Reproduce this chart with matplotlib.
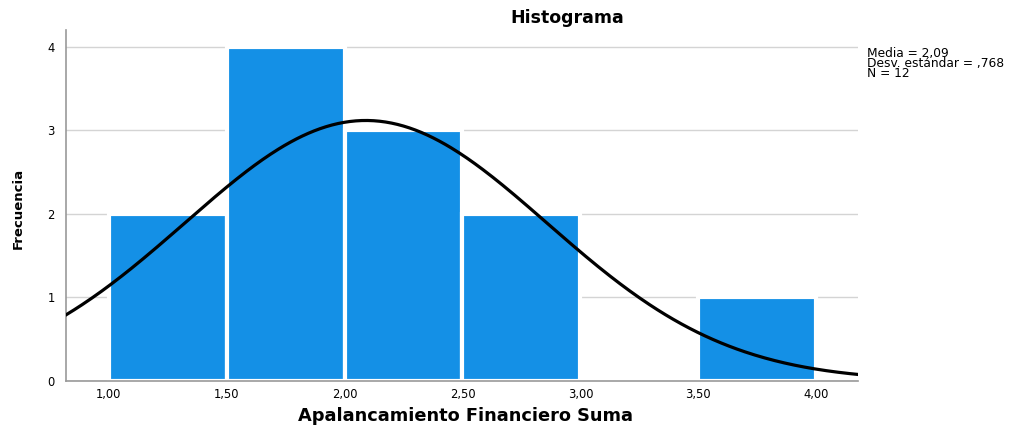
import numpy as np
import matplotlib.pyplot as plt

plt.rcParams['font.family'] = ['DejaVu Sans']

# histogram bins (Apalancamiento Financiero Suma) and counts
bin_edges = [1.0, 1.5, 2.0, 2.5, 3.0, 3.5, 4.0]
counts = [2, 4, 3, 2, 0, 1]
media = 2.09
desv = 0.768
n_obs = 12
xticks = [1.0, 1.5, 2.0, 2.5, 3.0, 3.5, 4.0]
xtick_labels = ['1,00', '1,50', '2,00', '2,50', '3,00', '3,50', '4,00']
yticks = [0, 1, 2, 3, 4]

fig = plt.figure(figsize=(10.16, 4.28), dpi=100)
ax = fig.add_axes([0.065, 0.11, 0.7795, 0.82])

width = bin_edges[1] - bin_edges[0]
ax.bar(bin_edges[:-1], counts, width=width, align='edge', color='#1490e6',
       edgecolor='white', linewidth=3, zorder=2)

# normal curve scaled to counts
xs = np.linspace(0.818, 4.178, 400)
ys = n_obs * width / (desv * np.sqrt(2 * np.pi)) * np.exp(-0.5 * ((xs - media) / desv) ** 2)
ax.plot(xs, ys, color='black', linewidth=2.3, zorder=3)

ax.set_xlim(0.818, 4.178)
ax.set_ylim(0, 4.2)
ax.set_xticks(xticks)
ax.set_xticklabels(xtick_labels)
ax.set_yticks(yticks)
ax.tick_params(axis='x', length=0, labelsize=8.3, pad=5)
ax.tick_params(axis='y', length=0, labelsize=8.3, pad=8)
ax.yaxis.grid(True, color='#d4d4d4', linewidth=1, zorder=0)
ax.set_axisbelow(True)
for s in ['top', 'right']:
    ax.spines[s].set_visible(False)
for s in ['left', 'bottom']:
    ax.spines[s].set_color('#999999')
    ax.spines[s].set_linewidth(1.2)

fig.text(0.558, 0.957, 'Histograma', ha='center', va='center',
         fontsize=12.5, fontweight='bold')
fig.text(0.458, 0.027, 'Apalancamiento Financiero Suma', ha='center', va='center',
         fontsize=12.8, fontweight='bold')
fig.text(0.018, 0.512, 'Frecuencia', ha='center', va='center', rotation=90,
         fontsize=9.5, fontweight='bold')
fig.text(0.853, 0.89, 'Media = 2,09\nDesv. estándar = ,768\nN = 12',
         ha='left', va='top', fontsize=8.8, linespacing=0.72)

fig.savefig('out.png', dpi=100)
